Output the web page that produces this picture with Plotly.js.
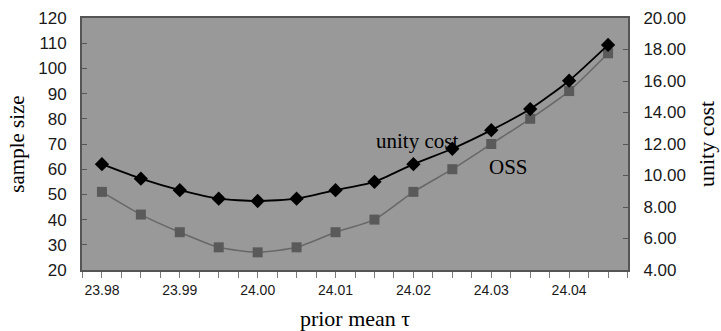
<!DOCTYPE html>
<html>
<head>
<meta charset="utf-8">
<script src="https://cdn.plot.ly/plotly-3.0.1.min.js"></script>
<style>html,body{margin:0;padding:0;background:#fff;}#chart{width:721px;height:331px;}</style>
</head>
<body>
<div id="chart"></div>
<script>
const priorMean = [23.980, 23.985, 23.990, 23.995, 24.000, 24.005, 24.010, 24.015, 24.020, 24.025, 24.030, 24.035, 24.040, 24.045];
const ossSampleSize = [51, 42, 35, 29, 27, 29, 35, 40, 51, 60, 70, 80, 91, 106];
const unityCost = [10.72, 9.80, 9.07, 8.53, 8.38, 8.53, 9.07, 9.60, 10.72, 11.70, 12.88, 14.22, 16.02, 18.29];
const xTickVals = [23.98, 23.99, 24.00, 24.01, 24.02, 24.03, 24.04];
const xTickText = ["23.98", "23.99", "24.00", "24.01", "24.02", "24.03", "24.04"];
const seriesLabels = ["OSS", "unity cost"];

const traces = [
  {
    x: priorMean, y: ossSampleSize, name: seriesLabels[0], type: 'scatter', mode: 'lines+markers',
    line: {color: '#686868', width: 1.5, shape: 'spline', smoothing: 0.6},
    marker: {symbol: 'square', size: 10, color: '#5a5a5a'},
    xaxis: 'x', yaxis: 'y'
  },
  {
    x: priorMean, y: unityCost, name: seriesLabels[1], type: 'scatter', mode: 'lines+markers',
    line: {color: '#000000', width: 1.8, shape: 'spline', smoothing: 0.6},
    marker: {symbol: 'diamond', size: 11, color: '#000000'},
    xaxis: 'x', yaxis: 'y2'
  }
];

const tickFont = {family: 'Liberation Sans, Arial, sans-serif', size: 17, color: '#1a1a1a'};
const serif = 'Liberation Serif, Times New Roman, serif';

const layout = {
  width: 721, height: 331,
  margin: {l: 82, r: 93, t: 18, b: 61},
  paper_bgcolor: '#ffffff',
  plot_bgcolor: '#999999',
  showlegend: false,
  xaxis: {
    range: [23.97744, 24.04756],
    tickvals: xTickVals, ticktext: xTickText,
    ticks: 'outside', ticklen: 6, tickcolor: '#7a7a7a',
    minor: {dtick: 0.0025, tick0: 23.98, ticks: 'outside', ticklen: 6, tickcolor: '#7a7a7a'},
    showgrid: false, zeroline: false,
    showline: true, linecolor: '#555555', linewidth: 2, mirror: true,
    tickfont: {family: 'Liberation Sans, Arial, sans-serif', size: 14, color: '#1a1a1a'},
    title: {text: 'prior mean τ', font: {family: serif, size: 22, color: '#000'}, standoff: 14}
  },
  yaxis: {
    range: [20, 120], dtick: 10,
    ticks: 'inside', ticklen: 5, tickcolor: '#555555',
    showgrid: false, zeroline: false,
    showline: true, linecolor: '#555555', linewidth: 2,
    tickfont: tickFont, ticklabelstandoff: 10,
    title: {text: 'sample size', font: {family: serif, size: 21, color: '#000'}, standoff: 8}
  },
  yaxis2: {
    overlaying: 'y', side: 'right',
    range: [4, 20], dtick: 2, tickformat: '.2f',
    ticks: 'inside', ticklen: 5, tickcolor: '#555555',
    showgrid: false, zeroline: false,
    showline: true, linecolor: '#555555', linewidth: 2,
    tickfont: tickFont, ticklabelstandoff: 10,
    title: {text: 'unity cost', font: {family: serif, size: 22, color: '#000'}, standoff: 14}
  },
  annotations: [
    {x: 24.0149, y: 71, xref: 'x', yref: 'y', text: 'unity cost', showarrow: false,
     font: {family: serif, size: 21, color: '#000'}, xanchor: 'left', yanchor: 'middle'},
    {x: 24.0295, y: 61, xref: 'x', yref: 'y', text: 'OSS', showarrow: false,
     font: {family: serif, size: 21, color: '#000'}, xanchor: 'left', yanchor: 'middle'}
  ]
};

Plotly.newPlot('chart', traces, layout, {displayModeBar: false, staticPlot: true});
</script>
</body>
</html>
